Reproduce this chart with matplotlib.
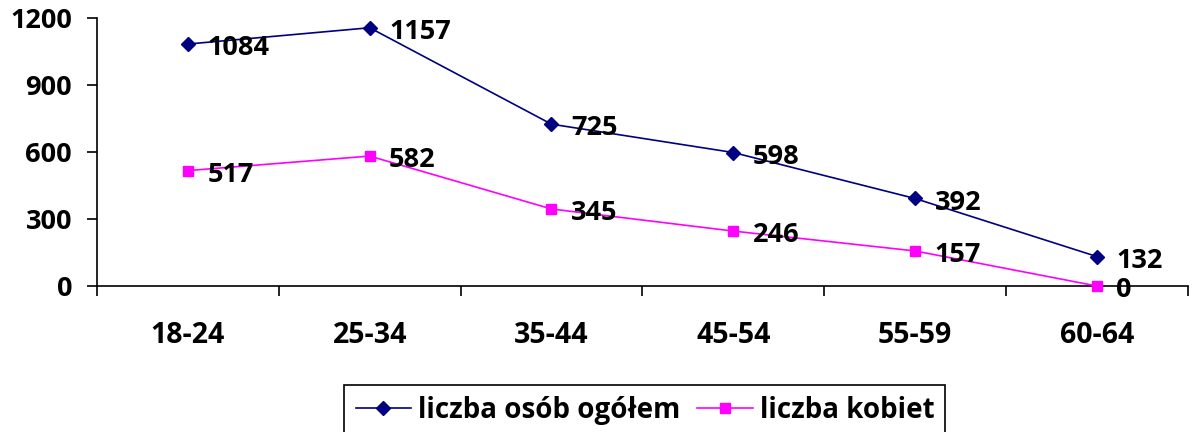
import matplotlib.pyplot as plt

plt.rcParams['font.family'] = ['Open Sans', 'DejaVu Sans']
plt.rcParams['font.weight'] = 'bold'

groups = ['18-24', '25-34', '35-44', '45-54', '55-59', '60-64']
ogolem = [1084, 1157, 725, 598, 392, 132]
kobiety = [517, 582, 345, 246, 157, 0]

fig = plt.figure(figsize=(11.92, 4.32), dpi=100)
ax = fig.add_axes([0.0814, 0.338, 0.915, 0.62])

x = list(range(len(groups)))
ax.plot(x, ogolem, color='#000080', marker='D', ms=7, lw=1.2,
        label='liczba osób ogółem', clip_on=False, zorder=3)
ax.plot(x, kobiety, color='#FF00FF', marker='s', ms=7, lw=1.2,
        label='liczba kobiet', clip_on=False, zorder=3)

for xi, v in zip(x, ogolem):
    ax.annotate(str(v), (xi, v), xytext=(14, -3), textcoords='offset points',
                ha='left', va='center', fontsize=19.5, fontweight='bold')
for xi, v in zip(x, kobiety):
    ax.annotate(str(v), (xi, v), xytext=(14, -3), textcoords='offset points',
                ha='left', va='center', fontsize=19.5, fontweight='bold')

ax.set_xlim(-0.5, len(groups) - 0.5)
ax.set_ylim(0, 1200)
ax.set_yticks([0, 300, 600, 900, 1200])
ax.set_xticks([i - 0.5 for i in range(len(groups) + 1)])
ax.set_xticklabels([])
ax.set_xticks(x, minor=True)
ax.set_xticklabels(groups, minor=True)
ax.tick_params(axis='x', which='major', length=7, width=1.2, direction='out')
ax.tick_params(axis='x', which='minor', length=0, pad=25, labelsize=20.5)
ax.tick_params(axis='y', length=7, width=1.2, direction='out', labelsize=19.5, pad=11)
for lbl in ax.get_xticklabels(minor=True) + ax.get_yticklabels():
    lbl.set_fontweight('bold')

for s in ['top', 'right']:
    ax.spines[s].set_visible(False)
ax.spines['left'].set_linewidth(1.2)
ax.spines['bottom'].set_linewidth(1.2)

leg = fig.legend(loc='upper center', bbox_to_anchor=(0.541, 0.109), ncol=2,
                 fancybox=False, edgecolor='black', framealpha=1,
                 prop={'size': 20, 'weight': 'bold'}, handlelength=2.0,
                 columnspacing=0.6, handletextpad=0.25, borderpad=0.4,
                 borderaxespad=0)
leg.get_frame().set_linewidth(1.2)

fig.savefig('out.png', dpi=100)
